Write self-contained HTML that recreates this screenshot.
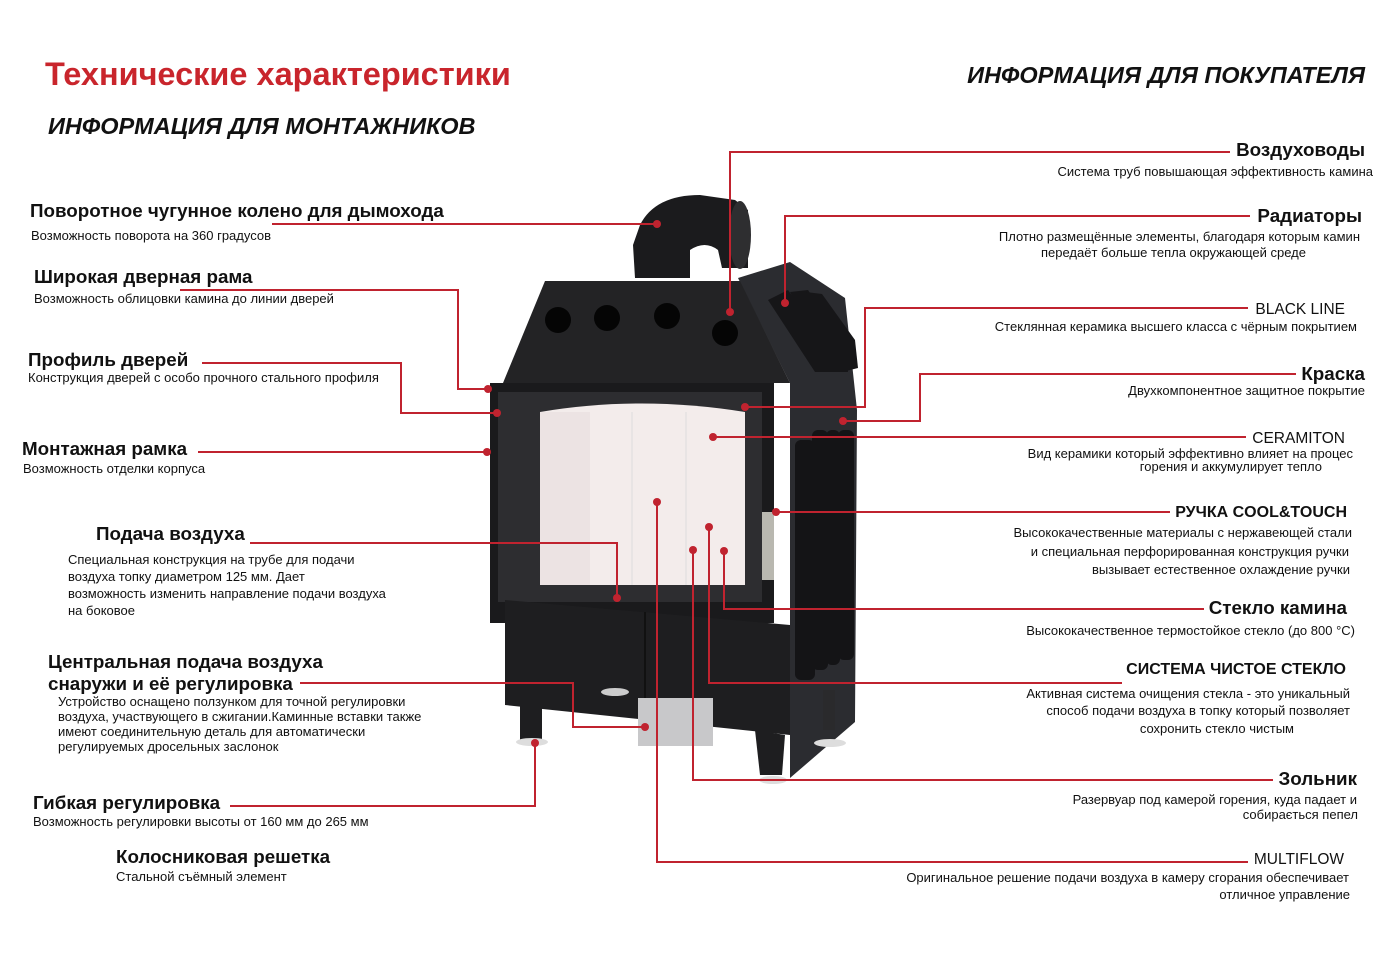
<!DOCTYPE html>
<html><head><meta charset="utf-8"><style>
body{margin:0;background:#fff;}
svg{display:block}
text{font-family:"Liberation Sans","DejaVu Sans",sans-serif;fill:#111}
.h{font-weight:bold;font-size:18.8px}
.d{font-size:13px}
.r{text-anchor:end}
</style></head><body>
<svg width="1400" height="959" viewBox="0 0 1400 959" xmlns="http://www.w3.org/2000/svg">
<rect width="1400" height="959" fill="#fff"/>
<text x="45" y="85" style="font-size:32.5px;font-weight:bold;fill:#c9252c">Технические характеристики</text>
<text x="48" y="134" style="font-size:23.5px;font-weight:bold;font-style:italic">ИНФОРМАЦИЯ ДЛЯ МОНТАЖНИКОВ</text>
<text x="1365" y="83" class="r" style="font-size:23.5px;font-weight:bold;font-style:italic">ИНФОРМАЦИЯ ДЛЯ ПОКУПАТЕЛЯ</text>

<g>
<path d="M640 225 Q655 195 700 195 L735 200 L748 210 L748 268 L722 268 L718 250 Q705 240 690 250 L690 278 L635 278 L633 245 Z" fill="#1b1b1d"/>
<ellipse cx="740" cy="235" rx="11" ry="34" fill="#2e2e30"/>
<polygon points="738,278 790,262 845,298 857,410 855,722 790,778 790,383" fill="#2b2c30"/>
<g fill="#161618"><polygon points="768,300 788,290 832,352 835,372 815,372"/><polygon points="790,292 808,290 845,345 848,372 830,372"/><polygon points="806,292 822,294 855,340 858,368 842,372"/></g>
<polygon points="545,281 740,281 790,383 503,383" fill="#232325"/>
<circle cx="558" cy="320" r="13" fill="#050505"/><circle cx="607" cy="318" r="13" fill="#050505"/><circle cx="667" cy="316" r="13" fill="#050505"/><circle cx="725" cy="333" r="13" fill="#050505"/>
<rect x="490" y="383" width="284" height="240" fill="#1a1a1c"/>
<rect x="498" y="392" width="264" height="210" fill="#2d2d30"/>
<path d="M540 412 Q640 395 745 412 L745 585 L540 585 Z" fill="#f3eceb"/>
<rect x="540" y="412" width="50" height="173" fill="#ece3e3"/>
<line x1="632" y1="412" x2="632" y2="585" stroke="#ddd"/><line x1="686" y1="412" x2="686" y2="585" stroke="#ddd"/>
<g fill="#141416"><rect x="812" y="430" width="16" height="240" rx="6"/><rect x="826" y="430" width="14" height="235" rx="6"/><rect x="838" y="430" width="16" height="230" rx="6"/><rect x="795" y="440" width="20" height="240" rx="6"/></g>
<rect x="762" y="512" width="12" height="68" fill="#b9b8b0"/>
<polygon points="505,600 790,625 790,735 505,705" fill="#1e1e20"/>
<line x1="645" y1="612" x2="645" y2="712" stroke="#111" stroke-width="2"/>
<rect x="520" y="690" width="22" height="50" fill="#1e1e20"/>
<polygon points="755,730 785,735 782,775 760,775" fill="#1e1e20"/>
<rect x="823" y="690" width="12" height="40" fill="#2a2a2c"/>
<rect x="638" y="698" width="75" height="48" fill="#c8c8ca"/>
<ellipse cx="532" cy="742" rx="16" ry="4" fill="#ddd"/><ellipse cx="830" cy="743" rx="16" ry="4" fill="#ddd"/><ellipse cx="773" cy="780" rx="14" ry="4" fill="#ddd"/><ellipse cx="615" cy="692" rx="14" ry="4" fill="#ccc"/>
</g>

<g stroke="#c0232f" stroke-width="2" fill="none">
<polyline points="272,224 657,224"/>
<polyline points="180,290 458,290 458,389 488,389"/>
<polyline points="202,363 401,363 401,413 497,413"/>
<polyline points="198,452 487,452"/>
<polyline points="250,543 617,543 617,598"/>
<polyline points="300,683 573,683 573,727 645,727"/>
<polyline points="230,806 535,806 535,743"/>
<polyline points="1230,152 730,152 730,312"/>
<polyline points="1250,216 785,216 785,303"/>
<polyline points="1248,308 865,308 865,407 745,407"/>
<polyline points="1296,374 920,374 920,421 843,421"/>
<polyline points="1246,437 713,437"/>
<polyline points="1170,512 776,512"/>
<polyline points="1204,609 724,609 724,551"/>
<polyline points="1122,683 709,683 709,527"/>
<polyline points="1273,780 693,780 693,550"/>
<polyline points="1248,862 657,862 657,502"/>
</g>
<g fill="#c0232f">
<circle cx="657" cy="224" r="4"/><circle cx="488" cy="389" r="4"/><circle cx="497" cy="413" r="4"/><circle cx="487" cy="452" r="4"/>
<circle cx="617" cy="598" r="4"/><circle cx="645" cy="727" r="4"/><circle cx="535" cy="743" r="4"/>
<circle cx="730" cy="312" r="4"/><circle cx="785" cy="303" r="4"/><circle cx="745" cy="407" r="4"/><circle cx="843" cy="421" r="4"/>
<circle cx="713" cy="437" r="4"/><circle cx="776" cy="512" r="4"/><circle cx="724" cy="551" r="4"/><circle cx="709" cy="527" r="4"/>
<circle cx="693" cy="550" r="4"/><circle cx="657" cy="502" r="4"/>
</g>

<text x="30" y="217" class="h">Поворотное чугунное колено для дымохода</text>
<text x="31" y="240" class="d">Возможность поворота на 360 градусов</text>
<text x="34" y="283" class="h">Широкая дверная рама</text>
<text x="34" y="303" class="d">Возможность облицовки камина до линии дверей</text>
<text x="28" y="366" class="h">Профиль дверей</text>
<text x="28" y="382" class="d">Конструкция дверей с особо прочного стального профиля</text>
<text x="22" y="455" class="h">Монтажная рамка</text>
<text x="23" y="473" class="d">Возможность отделки корпуса</text>
<text x="96" y="540" class="h">Подача воздуха</text>
<text x="68" y="564" class="d">Специальная конструкция на трубе для подачи</text>
<text x="68" y="581" class="d">воздуха топку диаметром 125 мм. Дает</text>
<text x="68" y="598" class="d">возможность изменить направление подачи воздуха</text>
<text x="68" y="615" class="d">на боковое</text>
<text x="48" y="668" class="h">Центральная подача воздуха</text>
<text x="48" y="690" class="h">снаружи и её регулировка</text>
<text x="58" y="706" class="d">Устройство оснащено ползунком для точной регулировки</text>
<text x="58" y="721" class="d">воздуха, участвующего в сжигании.Каминные вставки также</text>
<text x="58" y="736" class="d">имеют соединительную деталь для автоматически</text>
<text x="58" y="751" class="d">регулируемых дросельных заслонок</text>
<text x="33" y="809" class="h">Гибкая регулировка</text>
<text x="33" y="826" class="d">Возможность регулировки высоты от 160 мм до 265 мм</text>
<text x="116" y="863" class="h">Колосниковая решетка</text>
<text x="116" y="881" class="d">Стальной съёмный элемент</text>

<text x="1365" y="156" class="h r">Воздуховоды</text>
<text x="1373" y="176" class="d r">Система труб повышающая эффективность камина</text>
<text x="1362" y="222" class="h r">Радиаторы</text>
<text x="1360" y="241" class="d r">Плотно размещённые элементы, благодаря которым камин</text>
<text x="1306" y="257" class="d r">передаёт больше тепла окружающей среде</text>
<text x="1345" y="314" style="font-size:15.5px" class="r">BLACK LINE</text>
<text x="1357" y="331" class="d r">Стеклянная керамика высшего класса с чёрным покрытием</text>
<text x="1365" y="380" class="h r">Краска</text>
<text x="1365" y="395" class="d r">Двухкомпонентное защитное покрытие</text>
<text x="1345" y="443" style="font-size:15.5px" class="r">CERAMITON</text>
<text x="1353" y="458" class="d r">Вид керамики который эффективно влияет на процес</text>
<text x="1322" y="471" class="d r">горения и аккумулирует тепло</text>
<text x="1347" y="517" style="font-size:16px;font-weight:bold" class="r">РУЧКА COOL&amp;TOUCH</text>
<text x="1352" y="537" class="d r">Высококачественные материалы с нержавеющей стали</text>
<text x="1349" y="556" class="d r">и специальная перфорированная конструкция ручки</text>
<text x="1350" y="574" class="d r">вызывает естественное охлаждение ручки</text>
<text x="1347" y="614" class="h r">Стекло камина</text>
<text x="1355" y="635" class="d r">Высококачественное термостойкое стекло (до 800 °С)</text>
<text x="1346" y="674" style="font-size:16px;font-weight:bold" class="r">СИСТЕМА ЧИСТОЕ СТЕКЛО</text>
<text x="1350" y="698" class="d r">Активная система очищения стекла - это   уникальный</text>
<text x="1350" y="715" class="d r">способ подачи воздуха в топку который позволяет</text>
<text x="1294" y="733" class="d r">сохронить стекло чистым</text>
<text x="1357" y="785" class="h r">Зольник</text>
<text x="1357" y="804" class="d r">Разервуар под камерой горения, куда падает и</text>
<text x="1358" y="819" class="d r">собирається пепел</text>
<text x="1344" y="864" style="font-size:15.5px" class="r">MULTIFLOW</text>
<text x="1349" y="882" class="d r">Оригинальное решение подачи воздуха в камеру сгорания обеспечивает</text>
<text x="1350" y="899" class="d r">отличное управление</text>
</svg>
</body></html>
